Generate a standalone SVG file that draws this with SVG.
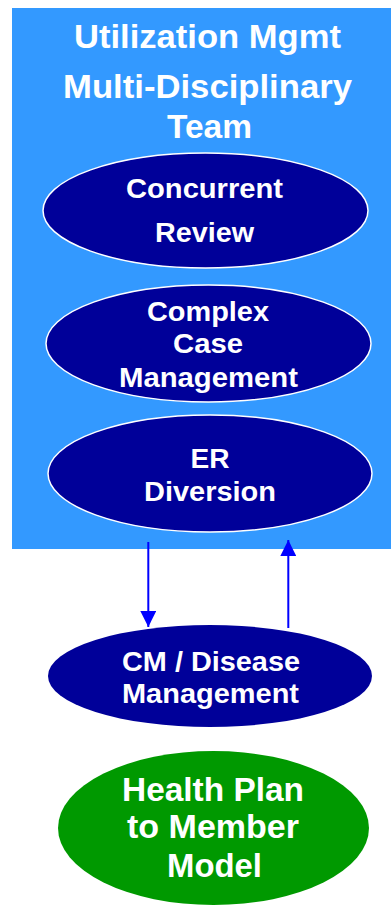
<svg xmlns="http://www.w3.org/2000/svg" width="391" height="905" viewBox="0 0 391 905">
<style>
.t{font-family:"Liberation Sans",Arial,sans-serif;font-weight:bold;fill:#fff;text-anchor:middle}
.oval{fill:#000099;stroke:#fff;stroke-width:1.5}
.conn{stroke:#0000FF;stroke-width:2;fill:none}
</style>
<defs>
<marker id="ah" viewBox="0 0 16 16" refX="16" refY="8" markerWidth="16" markerHeight="16" markerUnits="userSpaceOnUse" orient="auto">
<path d="M0,0 L16,8 L0,16 z" fill="#0000FF"/>
</marker>
</defs>
<rect x="0" y="0" width="391" height="905" fill="#fff"/>
<g id="team">
<rect x="12" y="8" width="380" height="541" fill="#3399FF"/>
<text class="t" font-size="33" x="207.5" y="48" textLength="267" lengthAdjust="spacingAndGlyphs">Utilization Mgmt</text>
<text class="t" font-size="33" x="207.5" y="98" textLength="289" lengthAdjust="spacingAndGlyphs">Multi-Disciplinary</text>
<text class="t" font-size="33" x="209.5" y="138" textLength="85" lengthAdjust="spacingAndGlyphs">Team</text>
</g>
<g id="concurrent">
<ellipse class="oval" cx="205.5" cy="210.5" rx="162.5" ry="57.5"/>
<text class="t" font-size="27" x="204.5" y="198" textLength="157" lengthAdjust="spacingAndGlyphs">Concurrent</text>
<text class="t" font-size="27" x="204.5" y="242" textLength="99" lengthAdjust="spacingAndGlyphs">Review</text>
</g>
<g id="complex">
<ellipse class="oval" cx="208.5" cy="343.5" rx="162.5" ry="58.5"/>
<text class="t" font-size="27" x="208" y="321" textLength="122" lengthAdjust="spacingAndGlyphs">Complex</text>
<text class="t" font-size="27" x="208" y="353" textLength="70" lengthAdjust="spacingAndGlyphs">Case</text>
<text class="t" font-size="27" x="208.5" y="386.5" textLength="179" lengthAdjust="spacingAndGlyphs">Management</text>
</g>
<g id="er">
<ellipse class="oval" cx="210" cy="473.5" rx="162" ry="58.5"/>
<text class="t" font-size="27" x="210" y="468" textLength="39" lengthAdjust="spacingAndGlyphs">ER</text>
<text class="t" font-size="27" x="210" y="501" textLength="132" lengthAdjust="spacingAndGlyphs">Diversion</text>
</g>
<g id="connectors">
<line class="conn" x1="148.3" y1="542" x2="148.3" y2="627" marker-end="url(#ah)"/>
<line class="conn" x1="288.3" y1="628" x2="288.3" y2="540" marker-end="url(#ah)"/>
</g>
<g id="cm">
<ellipse cx="210" cy="676" rx="162" ry="51" fill="#000099"/>
<text class="t" font-size="27" x="211" y="670.5" textLength="178" lengthAdjust="spacingAndGlyphs">CM / Disease</text>
<text class="t" font-size="27" x="210.5" y="703" textLength="177" lengthAdjust="spacingAndGlyphs">Management</text>
</g>
<g id="healthplan">
<ellipse cx="213.5" cy="828" rx="155.5" ry="77" fill="#009900"/>
<text class="t" font-size="33" x="213" y="801" textLength="182" lengthAdjust="spacingAndGlyphs">Health Plan</text>
<text class="t" font-size="33" x="213" y="838" textLength="172" lengthAdjust="spacingAndGlyphs">to Member</text>
<text class="t" font-size="33" x="214.5" y="877" textLength="95" lengthAdjust="spacingAndGlyphs">Model</text>
</g>
</svg>
